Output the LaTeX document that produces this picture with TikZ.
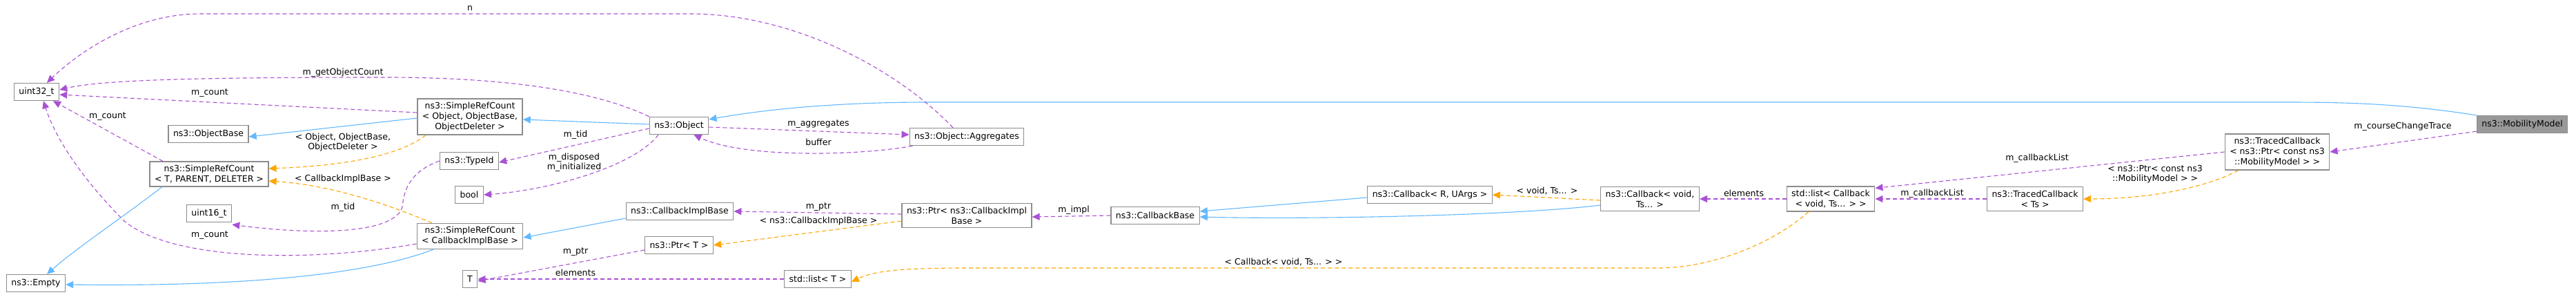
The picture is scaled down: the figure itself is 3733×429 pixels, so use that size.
\documentclass[tikz,border=0pt]{standalone}
\usepackage{fontspec}
\setmainfont{DejaVu Sans}
\usetikzlibrary{arrows.meta}
\definecolor{mbrpurple}{HTML}{9A32CD}
\definecolor{inhblue}{HTML}{63B8FF}
\definecolor{tplorange}{HTML}{FFA500}
\tikzset{
  cls/.style={draw=black!45, fill=white, line width=1.3pt, rectangle, inner xsep=7pt,
    inner ysep=5pt, minimum height=25pt, align=center, font=\fontsize{12.5}{15}\selectfont},
  lbl/.style={inner sep=1pt, align=center, font=\fontsize{12.5}{14}\selectfont},
  inh/.style={draw=inhblue, line width=1.1pt, -{Triangle[length=11pt,width=10pt]}},
  mbr/.style={draw=mbrpurple!85, line width=1.1pt, dash pattern=on 6pt off 4pt,
    -{Triangle[length=11pt,width=10pt]}},
  tpl/.style={draw=tplorange, line width=1.1pt, dash pattern=on 6pt off 4pt,
    -{Triangle[length=11pt,width=10pt]}}
}
\begin{document}
\begin{tikzpicture}[x=1pt,y=-1pt]
\useasboundingbox (0,0) rectangle (3733,429);
% classes
\node[cls] (u32) at (53,133) {uint32\_t};
\node[cls] (objbase) at (302,194) {ns3::ObjectBase};
\node[cls] (srcobj) at (681,169) {ns3::SimpleRefCount\\< Object, ObjectBase,\\ObjectDeleter >};
\node[cls] (srctpd) at (303,252) {ns3::SimpleRefCount\\< T, PARENT, DELETER >};
\node[cls] (typeid) at (680,233) {ns3::TypeId};
\node[cls] (bool) at (680,282) {bool};
\node[cls] (u16) at (303,309) {uint16\_t};
\node[cls] (srccib) at (681,342) {ns3::SimpleRefCount\\< CallbackImplBase >};
\node[cls] (empty) at (52,410) {ns3::Empty};
\node[cls] (tt) at (681,404) {T};
\node[cls] (obj) at (984,182) {ns3::Object};
\node[cls] (aggr) at (1401,198) {ns3::Object::Aggregates};
\node[cls] (cib) at (985,306) {ns3::CallbackImplBase};
\node[cls] (ptrcib) at (1401,312) {ns3::Ptr< ns3::CallbackImpl\\Base >};
\node[cls] (ptrt) at (984,355) {ns3::Ptr< T >};
\node[cls] (listt) at (1185,404) {std::list< T >};
\node[cls] (cbbase) at (1674,312) {ns3::CallbackBase};
\node[cls] (cbru) at (2072,282) {ns3::Callback< R, UArgs >};
\node[cls] (cbvoid) at (2391,288) {ns3::Callback< void,\\Ts... >};
\node[cls] (listcb) at (2653,288) {std::list< Callback\\< void, Ts... > >};
\node[cls] (tcts) at (2949,288) {ns3::TracedCallback\\< Ts >};
\node[cls] (tcmob) at (3300,220) {ns3::TracedCallback\\< ns3::Ptr< const ns3\\::MobilityModel > >};
\node[cls, fill=black!40] (mob) at (3655,180) {ns3::MobilityModel};
% connectors
\draw[inh] (mob.north west) .. controls (3480,150) and (3400,148) .. (3314,148) -- (1346,148)
  .. controls (1200,148) and (1100,160) .. ([yshift=-4pt]obj.north east);
\draw[mbr] ([yshift=3pt]mob.south west) -- (tcmob.east);
\node[lbl] (l1) at (3482,183) {m\_courseChangeTrace};
\draw[mbr] (tcmob.west) -- ([yshift=-3pt]listcb.north east);
\node[lbl] (l2) at (2952,229) {m\_callbackList};
\draw[tpl] ([xshift=20pt]tcmob.south west) .. controls (3200,270) and (3120,288) .. (tcts.east);
\node[lbl] (l3) at (3123,252) {< ns3::Ptr< const ns3\\::MobilityModel > >};
\draw[mbr] (tcts.west) -- (listcb.east);
\node[lbl] (l4) at (2800,280) {m\_callbackList};
\draw[mbr] (listcb.west) -- (cbvoid.east);
\node[lbl] (l5) at (2527,280) {elements};
\draw[tpl] ([yshift=-2pt]cbvoid.west) -- (cbru.east);
\node[lbl] (l6) at (2242,276) {< void, Ts... >};
\draw[inh] ([yshift=-9pt]cbvoid.west) .. controls (2200,312) and (1900,318) .. ([yshift=-2pt]cbbase.east);
\draw[inh] ([yshift=-4pt]cbru.west) -- ([yshift=6pt]cbbase.east);
\draw[mbr] (cbbase.west) -- ([yshift=-2pt]ptrcib.east);
\node[lbl] (l7) at (1556,304) {m\_impl};
\draw[mbr] ([yshift=2pt]ptrcib.west) -- (cib.east);
\node[lbl] (l8) at (1186,300) {m\_ptr};
\draw[tpl] ([yshift=-8pt]ptrcib.west) -- (ptrt.east);
\node[lbl] (l9) at (1186,320) {< ns3::CallbackImplBase >};
\draw[mbr] ([yshift=-7pt]ptrt.west) -- ([yshift=-3pt]tt.east);
\node[lbl] (l10) at (834,365) {m\_ptr};
\draw[mbr] (listt.west) -- (tt.east);
\node[lbl] (l11) at (834,395) {elements};
\draw[tpl] ([xshift=-32pt]listcb.south) .. controls (2560,360) and (2470,388) .. (2404,388)
  -- (1400,388) .. controls (1300,388) and (1265,393) .. ([yshift=-4pt]listt.east);
\node[lbl] (l12) at (1860,379) {< Callback< void, Ts... > >};
\draw[inh] ([yshift=-10pt]cib.west) -- ([yshift=-2pt]srccib.east);
\draw[tpl] ([xshift=-55pt]srccib.north) .. controls (560,295) and (480,268) .. ([yshift=-10pt]srctpd.east);
\node[lbl] (l13) at (497,259) {< CallbackImplBase >};
\draw[mbr] ([yshift=-11pt]srccib.west) .. controls (450,380) and (250,378) .. (180,320)
  .. controls (120,260) and (80,200) .. ([xshift=10pt]u32.south);
\node[lbl] (l14) at (304,341) {m\_count};
\draw[inh] ([xshift=-53pt]srccib.south) .. controls (500,410) and (250,414) .. ([yshift=-2pt]empty.east);
\draw[mbr] (typeid.west) .. controls (590,250) and (585,280) .. (583,300)
  .. controls (570,340) and (450,340) .. ([yshift=-3pt]u16.south east);
\node[lbl] (l15) at (497,300) {m\_tid};
\draw[inh] ([xshift=-68pt]srctpd.south) .. controls (170,320) and (110,360) .. ([xshift=16pt]empty.north);
\draw[mbr] ([xshift=-67pt]srctpd.north) -- ([xshift=24pt]u32.south);
\node[lbl] (l16) at (156,169) {m\_count};
\draw[inh] ([yshift=-2pt]srcobj.west) -- ([yshift=-4pt]objbase.east);
\draw[mbr] ([yshift=6pt]srcobj.west) -- ([yshift=-4pt]u32.east);
\node[lbl] (l17) at (304,135) {m\_count};
\draw[tpl] ([xshift=-64pt]srcobj.south) .. controls (580,225) and (500,240) .. ([yshift=8pt]srctpd.east);
\node[lbl] (l18) at (497,206) {< Object, ObjectBase,\\ObjectDeleter >};
\draw[inh] ([yshift=2pt]obj.west) -- ([yshift=-4pt]srcobj.east);
\draw[mbr] (obj.north west) .. controls (850,125) and (700,112) .. (560,112)
  .. controls (300,112) and (150,115) .. ([yshift=3pt]u32.east);
\node[lbl] (l19) at (497,105) {m\_getObjectCount};
\draw[mbr] ([yshift=-4pt]obj.west) -- ([yshift=-2pt]typeid.east);
\node[lbl] (l20) at (834,195) {m\_tid};
\draw[mbr] ([xshift=-30pt]obj.south) .. controls (920,240) and (800,275) .. (bool.east);
\node[lbl] (l21) at (832,235) {m\_disposed\\m\_initialized};
\draw[mbr] ([yshift=-2pt]obj.east) -- ([yshift=3pt]aggr.west);
\node[lbl] (l22) at (1186,180) {m\_aggregates};
\draw[mbr] ([xshift=5pt]aggr.south west) .. controls (1250,225) and (1080,230) .. ([xshift=-22pt]obj.south east);
\node[lbl] (l23) at (1186,206) {buffer};
\draw[mbr] ([xshift=-20pt]aggr.north) .. controls (1300,100) and (1150,20) .. (1000,20)
  -- (290,20) .. controls (200,20) and (120,70) .. ([xshift=15pt]u32.north);
\node[lbl] (l24) at (681,12) {n};
\end{tikzpicture}
\end{document}
